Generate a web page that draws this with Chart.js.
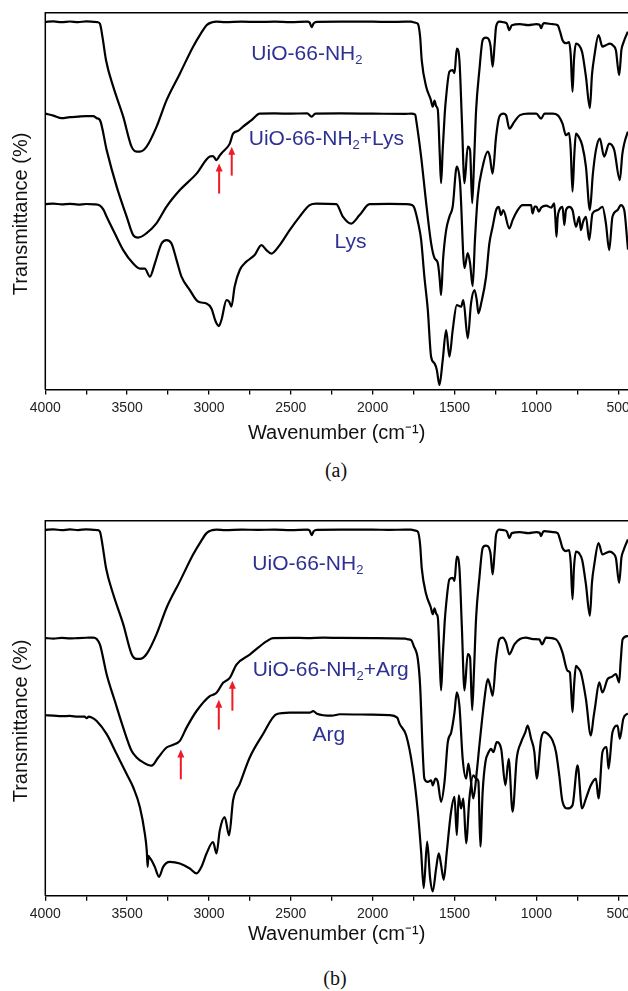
<!DOCTYPE html>
<html>
<head>
<meta charset="utf-8">
<script src="https://cdn.jsdelivr.net/npm/chart.js@4.4.1/dist/chart.umd.min.js"></script>
<style>
    html, body { margin: 0; padding: 0; background: #fff; overflow: hidden; width: 628px; height: 991px; }
    canvas { position: absolute; left: 0; }
    .cap { position: absolute; width: 60px; text-align: center; line-height: 20px;
           font: 20px "Liberation Serif", "Times New Roman", serif; color: #111; }
</style>
</head>
<body>
<canvas id="chartA" style="top:0"></canvas>
<canvas id="chartB" style="top:500px"></canvas>
<div class="cap" style="left:306px;top:459px">(a)</div>
<div class="cap" style="left:305px;top:967px">(b)</div>
<script>
// FTIR spectra, two panels. y is an arbitrary transmittance offset (0 = bottom axis).

const FONT = '"Liberation Sans", Arial, sans-serif';
const LABEL_COLOR = '#2e3192';
const ARROW_COLOR = '#ed1c24';

// x axis ticks
const xTicks = [4000, 3750, 3500, 3250, 3000, 2750, 2500, 2250, 2000, 1750, 1500, 1250, 1000, 750, 500];
const xTickLabels = [4000, 3500, 3000, 2500, 2000, 1500, 1000, 500];

// UiO-66-NH2 (same spectrum in both panels)
const uioWn = [4000, 3950, 3900, 3850, 3800, 3750, 3700, 3680, 3666, 3650, 3629, 3585, 3524, 3473, 3442, 3422, 3381, 3320, 3259, 3178, 3097, 3050, 3015, 2980, 2954, 2900, 2800, 2700, 2600, 2500, 2400, 2385, 2373, 2360, 2340, 2200, 2000, 1900, 1800, 1765, 1740, 1724, 1710, 1700, 1673, 1645, 1633, 1622, 1612, 1602, 1590, 1582, 1572, 1560, 1551, 1531, 1511, 1500, 1486, 1470, 1455, 1439, 1419, 1405, 1392, 1380, 1368, 1348, 1328, 1310, 1297, 1280, 1267, 1255, 1246, 1226, 1200, 1180, 1165, 1150, 1100, 1050, 1000, 980, 971, 960, 950, 900, 870, 855, 840, 819, 800, 790, 779, 770, 758, 740, 720, 697, 673, 660, 646, 620, 596, 575, 551, 530, 514, 494, 480, 469, 445, 440];
const uioT  = [367.8, 368.3, 367.5, 368.2, 367.6, 368.3, 367.8, 367.5, 366, 352, 329.5, 303, 273, 243, 238, 238, 243, 263, 289.5, 316, 343, 356, 364.5, 367.5, 368, 367.5, 368, 367.8, 368, 367.6, 368, 367.2, 362.5, 366.5, 367.8, 368, 368, 367.8, 368, 368, 367, 366, 353, 329, 303, 290, 283, 289, 283.5, 280, 235, 206.5, 240, 275, 293, 318, 319.5, 316.5, 341, 329.5, 270, 206.5, 243, 239.5, 186.5, 230, 279.5, 319.5, 349.5, 352, 351.5, 344, 323, 345, 363, 368, 367.5, 366, 359.5, 364.5, 365.5, 364.5, 365.5, 365, 361.5, 365.5, 366.5, 365.5, 364.5, 358, 349.5, 346.5, 347.5, 335, 298, 330, 346, 344.5, 337.5, 313, 281.5, 315, 333, 354.5, 343, 344.5, 346, 344, 339.5, 314.5, 340, 346.5, 356.5, 358];

// UiO-66-NH2+Lys
const lysMixWn = [4000, 3950, 3900, 3850, 3800, 3750, 3707, 3686, 3666, 3625, 3564, 3503, 3463, 3433, 3381, 3320, 3259, 3178, 3076, 2995, 2975, 2954, 2935, 2914, 2873, 2853, 2820, 2792, 2740, 2690, 2600, 2500, 2400, 2373, 2350, 2200, 2000, 1800, 1765, 1740, 1734, 1704, 1673, 1643, 1622, 1602, 1590, 1582, 1570, 1551, 1531, 1511, 1486, 1466, 1439, 1419, 1405, 1389, 1375, 1358, 1328, 1297, 1285, 1267, 1246, 1226, 1202, 1185, 1165, 1134, 1100, 1050, 1000, 971, 950, 900, 870, 840, 819, 800, 790, 779, 768, 758, 740, 720, 697, 673, 655, 636, 612, 586, 555, 524, 490, 475, 463, 445, 440];
const lysMixT  = [276, 274, 271.5, 272.5, 273, 273.5, 273.5, 271.5, 269.5, 239.5, 203, 173, 154.5, 152, 156.5, 166.5, 183, 199.5, 216, 233, 233.5, 229.5, 234, 238, 246, 256, 259, 263, 269.5, 276, 276.2, 276, 276.3, 273, 276, 276.2, 276, 275.8, 276, 275, 269.5, 233, 186.5, 146.5, 131.5, 126.5, 110, 94.5, 130, 159.5, 173, 183, 223, 206.5, 121.5, 136.5, 126.5, 103.5, 150, 193, 223, 238, 233.5, 216, 253, 273, 276, 274.5, 261, 268, 274.5, 276, 276, 271, 276, 276, 274.5, 266, 254.5, 256.5, 240, 198, 235, 256, 252.5, 244.5, 223, 179.5, 215, 239.5, 251, 233, 246, 239.5, 209.5, 235, 246, 256, 258];

// Lys
const lysWn = [4000, 3950, 3900, 3850, 3800, 3750, 3700, 3666, 3645, 3625, 3575, 3524, 3463, 3422, 3392, 3361, 3331, 3290, 3259, 3229, 3198, 3168, 3117, 3067, 3015, 2985, 2959, 2940, 2924, 2893, 2877, 2863, 2843, 2812, 2771, 2721, 2680, 2649, 2619, 2568, 2507, 2446, 2385, 2344, 2222, 2182, 2131, 2080, 2019, 1900, 1800, 1760, 1745, 1720, 1704, 1684, 1663, 1643, 1622, 1608, 1592, 1572, 1551, 1531, 1511, 1486, 1460, 1446, 1419, 1399, 1378, 1364, 1354, 1337, 1307, 1287, 1267, 1246, 1230, 1216, 1202, 1165, 1145, 1114, 1084, 1032, 1023, 1010, 1000, 985, 970, 940, 909, 891, 884, 877, 870, 860, 840, 829, 819, 799, 779, 758, 738, 728, 714, 697, 677, 657, 626, 596, 575, 555, 535, 504, 484, 463, 445, 440];
const lysT  = [185.5, 186, 185.2, 185.8, 185, 185.6, 185.3, 184, 180, 172.8, 156, 139.5, 126, 121, 121, 113, 126, 146, 149.5, 146, 129.5, 113, 99.5, 88, 86, 81, 68, 63.5, 69.5, 89.5, 88, 83, 103, 119.5, 128, 134.5, 144.5, 139.5, 136, 144.5, 159.5, 173, 184.5, 186, 185.5, 173, 166, 174.5, 185.5, 185.8, 185.5, 184.5, 181.5, 165, 150, 112.8, 79.5, 32.8, 26.2, 19.5, 4.5, 29.5, 59.5, 32.8, 59.5, 84.5, 82.8, 89.5, 51.2, 86.2, 99.5, 89.5, 76.2, 86.2, 112.8, 146.2, 162.8, 179.5, 182.8, 174.5, 179.5, 161.2, 169.5, 179.5, 184.5, 184.5, 176.2, 183, 183, 178, 182, 184, 182, 186.2, 172, 152.8, 172, 179.5, 182.8, 164.5, 179.5, 182.8, 179.5, 162.8, 172.8, 159.5, 168, 172.8, 149.5, 176.2, 179.5, 182.8, 166.2, 139.5, 172.8, 179.5, 184.5, 179.5, 149.5, 140];

// UiO-66-NH2+Arg
const argMixWn = [4000, 3950, 3900, 3850, 3800, 3750, 3707, 3686, 3666, 3625, 3575, 3524, 3473, 3442, 3402, 3351, 3310, 3259, 3219, 3178, 3137, 3076, 2995, 2975, 2954, 2914, 2873, 2832, 2751, 2649, 2609, 2500, 2400, 2300, 2200, 2000, 1800, 1784, 1765, 1749, 1724, 1710, 1694, 1684, 1663, 1643, 1633, 1616, 1602, 1582, 1561, 1541, 1520, 1500, 1486, 1470, 1450, 1429, 1415, 1399, 1385, 1364, 1348, 1317, 1297, 1282, 1267, 1246, 1226, 1206, 1185, 1165, 1134, 1100, 1063, 1020, 982, 965, 941, 880, 860, 840, 809, 795, 787, 779, 770, 758, 745, 728, 697, 667, 650, 640, 616, 596, 565, 540, 514, 494, 485, 473, 445, 440];
const argMixT  = [259, 258.5, 259.2, 258.6, 259, 259.3, 259.5, 258, 252.4, 222.4, 195.7, 169, 145.7, 139, 134, 130.7, 139, 149, 151.7, 155.7, 169, 185.7, 200.7, 202, 204, 214, 219, 232.4, 242.4, 255.7, 259, 259.2, 259, 259.4, 259.2, 259, 258.5, 257.7, 257, 251, 237.7, 211, 144.4, 117.7, 114.4, 116, 111, 117.7, 114.4, 94.4, 114.4, 154.4, 164.4, 184.4, 204.4, 191, 137.7, 117.7, 132.7, 114.4, 97.7, 124.4, 151, 197.7, 217.7, 211, 201, 237.7, 257.7, 259.4, 254.4, 242.7, 252.7, 258, 259.4, 258, 257.7, 252.7, 259.4, 257.7, 253, 244.4, 226, 224.4, 205, 184.4, 210, 231, 229, 224.4, 197.7, 161, 180, 191, 214.4, 204.4, 217.7, 220, 222.7, 214.4, 235, 257.7, 261, 261];

// Arg
const argWn = [4000, 3950, 3900, 3850, 3800, 3760, 3747, 3735, 3720, 3686, 3625, 3564, 3503, 3463, 3422, 3392, 3380, 3375, 3370, 3366, 3351, 3331, 3305, 3280, 3239, 3178, 3117, 3076, 3046, 3015, 2975, 2954, 2934, 2904, 2877, 2853, 2812, 2751, 2670, 2588, 2507, 2385, 2363, 2340, 2250, 2200, 2000, 1900, 1850, 1836, 1795, 1755, 1724, 1704, 1688, 1667, 1649, 1633, 1612, 1596, 1582, 1566, 1547, 1521, 1500, 1486, 1474, 1460, 1446, 1429, 1409, 1385, 1368, 1354, 1342, 1328, 1311, 1291, 1277, 1262, 1242, 1215, 1189, 1169, 1145, 1120, 1093, 1067, 1053, 1032, 1012, 998, 971, 951, 921, 901, 880, 860, 840, 809, 779, 748, 721, 697, 667, 636, 620, 596, 571, 559, 535, 504, 490, 469, 445, 440];
const argT  = [181.4, 181, 180.5, 180.7, 180, 180, 178.5, 180, 179.5, 175.7, 162.4, 142.4, 122.4, 109, 89, 62.4, 45, 29, 40, 39, 35.7, 29, 19, 29, 34, 32.4, 27.4, 22.4, 29, 42.4, 54, 42.4, 65.7, 79, 60.7, 95.7, 112.4, 139, 162.4, 182.4, 184, 184, 185.5, 183, 181, 182.4, 182, 181.5, 179, 173, 161, 127.7, 84.4, 44.4, 7.7, 54.4, 17.7, 4.4, 27.7, 42.7, 31, 16, 44.4, 84.4, 99.4, 61, 101, 87.7, 97.7, 52.7, 97.7, 121, 117.7, 115, 49.4, 104.4, 134.4, 144.4, 147.7, 144.4, 154.4, 147.7, 111, 137.7, 84.4, 137.7, 154.4, 164.4, 171, 157.7, 144.4, 117.7, 157.7, 164.4, 161, 156, 144.4, 121, 94.4, 87.7, 91, 131, 87.7, 97.7, 111, 117.7, 97.7, 144.4, 149.4, 127.7, 164.4, 171, 157.7, 177.7, 182.7, 183];

// curve labels: x = wavenumber of left edge, y = baseline ("_2" = subscript 2)
const labelsA = [
    { text: 'UiO-66-NH_2', x: 2741, y: 329.5 },
    { text: 'UiO-66-NH_2+Lys', x: 2757, y: 244.5 },
    { text: 'Lys', x: 2233, y: 142 }
];
const labelsB = [
    { text: 'UiO-66-NH_2', x: 2735, y: 327.7 },
    { text: 'UiO-66-NH_2+Arg', x: 2733, y: 221 },
    { text: 'Arg', x: 2367, y: 156 }
];

// red arrows: wavenumber, tail y, tip y
const arrowsA = [
    { x: 2938, y0: 196, y1: 226 },
    { x: 2861, y0: 214, y1: 243 }
];
const arrowsB = [
    { x: 3172, y0: 117, y1: 147 },
    { x: 2940, y0: 167, y1: 197 },
    { x: 2857, y0: 186, y1: 216 }
];

function toPoints(wn, t) {
    return wn.map((w, i) => ({ x: w, y: t[i] }));
}

function lineDataset(wn, t) {
    return {
        data: toPoints(wn, t),
        borderColor: '#000',
        borderWidth: 2.2,
        pointRadius: 0,
        fill: false,
        cubicInterpolationMode: 'monotone'
    };
}

function drawArrow(ctx, x, yTail, yTip) {
    const head = 8, half = 3.5;
    ctx.strokeStyle = ARROW_COLOR;
    ctx.fillStyle = ARROW_COLOR;
    ctx.lineWidth = 2;
    ctx.beginPath();
    ctx.moveTo(x, yTail);
    ctx.lineTo(x, yTip + head - 1);
    ctx.stroke();
    ctx.beginPath();
    ctx.moveTo(x, yTip);
    ctx.lineTo(x - half, yTip + head);
    ctx.lineTo(x + half, yTip + head);
    ctx.closePath();
    ctx.fill();
}

// frame, y title, curve labels and arrows
const decorPlugin = {
    id: 'decor',
    afterDraw(chart, args, opts) {
        const { ctx, chartArea: area } = chart;
        const xs = chart.scales.x, ys = chart.scales.y;
        ctx.save();

        ctx.strokeStyle = '#000';
        ctx.lineWidth = 1.5;
        ctx.beginPath();
        ctx.moveTo(area.left, area.bottom);
        ctx.lineTo(area.left, area.top);
        ctx.lineTo(area.right + 40, area.top);
        ctx.stroke();

        ctx.save();
        ctx.translate(area.left - 23.6, area.top + area.height * 0.534);
        ctx.rotate(-Math.PI / 2);
        ctx.fillStyle = '#111';
        ctx.font = '20px ' + FONT;
        ctx.textAlign = 'center';
        ctx.textBaseline = 'middle';
        ctx.fillText('Transmittance (%)', 0, 0);
        ctx.restore();

        ctx.fillStyle = LABEL_COLOR;
        ctx.textAlign = 'left';
        ctx.textBaseline = 'alphabetic';
        (opts.labels || []).forEach(l => {
            let px = xs.getPixelForValue(l.x);
            const py = ys.getPixelForValue(l.y);
            l.text.split(/_(.)/).forEach((part, i) => {
                const sub = i % 2 === 1;
                ctx.font = (sub ? '13px ' : '21px ') + FONT;
                ctx.fillText(part, px, sub ? py + 4 : py);
                px += ctx.measureText(part).width;
            });
        });

        (opts.arrows || []).forEach(a => {
            drawArrow(ctx, xs.getPixelForValue(a.x), ys.getPixelForValue(a.y0), ys.getPixelForValue(a.y1));
        });

        ctx.restore();
    }
};

function makeChart(id, height, padTop, axisHeight, titlePad, datasets, labels, arrows) {
    const canvas = document.getElementById(id);
    canvas.width = 660;
    canvas.height = height;
    canvas.style.width = '660px';
    canvas.style.height = height + 'px';

    return new Chart(canvas.getContext('2d'), {
        type: 'line',
        data: { datasets: datasets },
        options: {
            responsive: false,
            animation: false,
            layout: { padding: { left: 45.3, top: padTop, right: 32, bottom: 0 } },
            plugins: {
                legend: { display: false },
                tooltip: { enabled: false },
                decor: { labels: labels, arrows: arrows }
            },
            scales: {
                x: {
                    type: 'linear',
                    reverse: true,
                    min: 440,
                    max: 4000,
                    afterBuildTicks: scale => { scale.ticks = xTicks.map(v => ({ value: v })); },
                    afterFit: scale => { scale.height = axisHeight; },
                    ticks: {
                        autoSkip: false,
                        maxRotation: 0,
                        padding: 5,
                        color: '#222',
                        font: { size: 14, family: FONT },
                        callback: v => xTickLabels.includes(v) ? String(v) : ''
                    },
                    grid: {
                        drawOnChartArea: false,
                        drawTicks: true,
                        tickLength: 5,
                        color: '#000',
                        lineWidth: 1.3
                    },
                    border: { display: true, color: '#000', width: 1.5 },
                    title: {
                        display: true,
                        text: 'Wavenumber (cm\u207B\u00B9)',
                        color: '#111',
                        font: { size: 20, family: FONT },
                        padding: { top: 0, bottom: titlePad }
                    }
                },
                y: { display: false, min: 0, max: 377 }
            }
        },
        plugins: [decorPlugin]
    });
}

makeChart('chartA', 450, 12.7, 60.5, 5,
    [lineDataset(uioWn, uioT), lineDataset(lysMixWn, lysMixT), lineDataset(lysWn, lysT)],
    labelsA, arrowsA);

makeChart('chartB', 456, 20.7, 60.3, 10,
    [lineDataset(uioWn, uioT), lineDataset(argMixWn, argMixT), lineDataset(argWn, argT)],
    labelsB, arrowsB);
</script>
</body>
</html>
